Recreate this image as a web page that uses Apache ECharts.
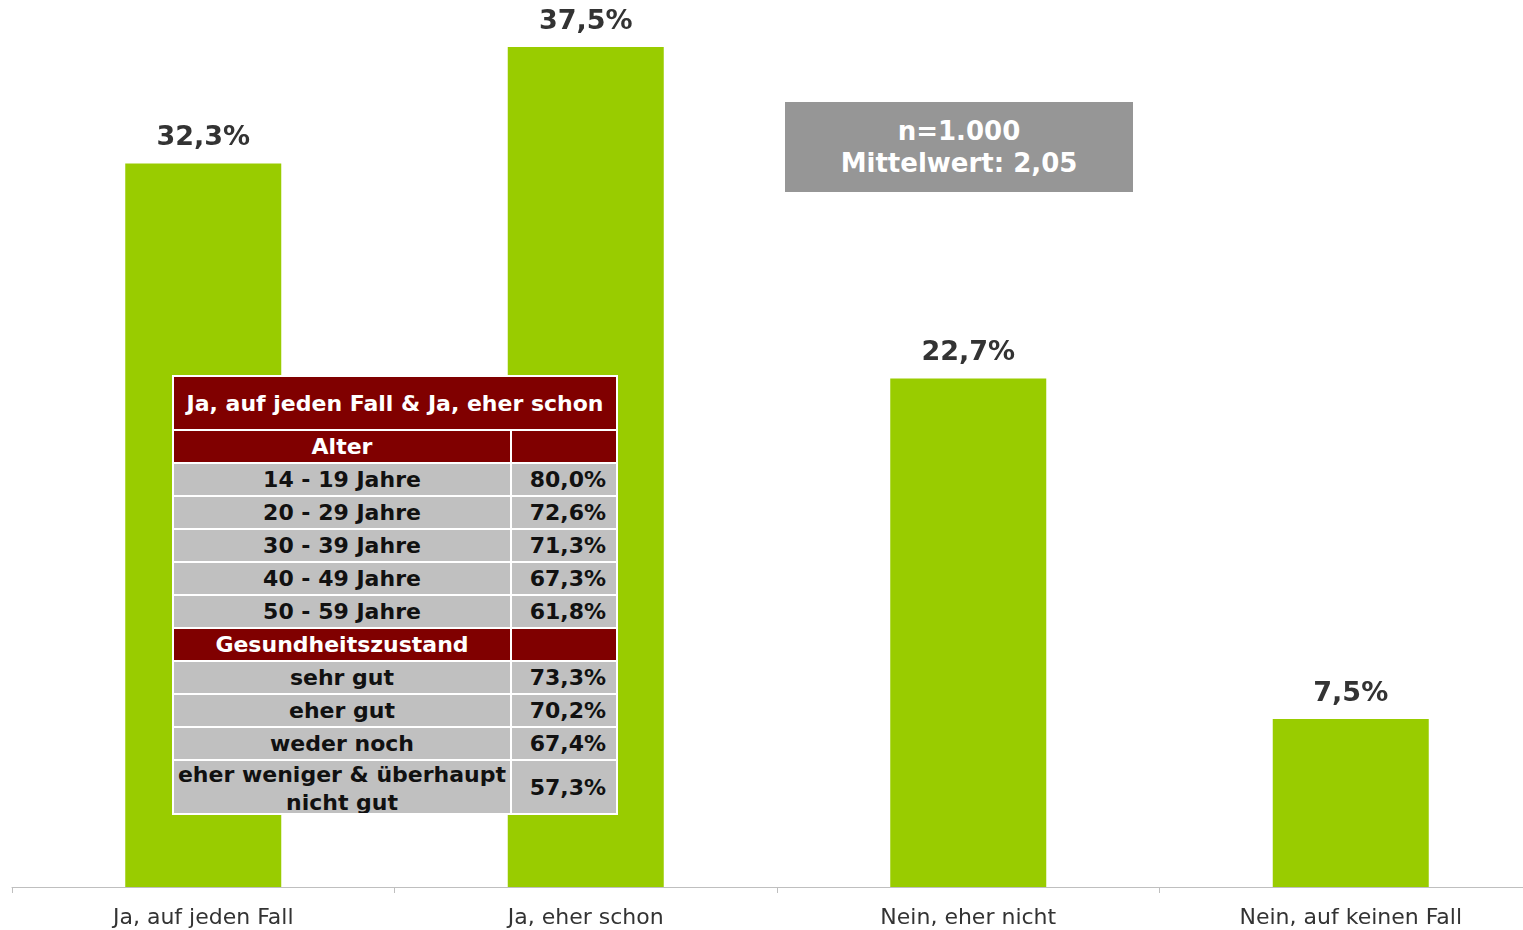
<!DOCTYPE html>
<html>
<head>
<meta charset="utf-8">
<script src="https://cdn.jsdelivr.net/npm/echarts@6/dist/echarts.min.js"></script>
<style>
  html, body { margin: 0; padding: 0; background: #fff; overflow: hidden; width: 1523px; height: 930px; }
  #chart { position: absolute; left: 0; top: 0; width: 1550px; height: 930px; }
  .nbox {
    position: absolute; left: 785px; top: 102px; width: 348px; height: 90px;
    background: #969696; color: #fff; font: bold 26px "DejaVu Sans", Verdana, sans-serif;
    text-align: center; display: flex; flex-direction: column; justify-content: center; line-height: 32px;
  }
  #tbl {
    position: absolute; left: 172px; top: 375px; width: 446px; table-layout: fixed;
    border-collapse: separate; border-spacing: 2px;
    background: #fff; font: bold 22px "DejaVu Sans", Verdana, sans-serif;
  }
  #tbl td { padding: 0; text-align: center; overflow: hidden; white-space: nowrap; }
  #tbl td.head { background: #800000; color: #fff; }
  #tbl td.cell { background: #c0c0c0; color: #111; }
  #tbl td.val { text-align: right; padding-right: 10px; }
</style>
</head>
<body>
<div id="chart"></div>
<div class="nbox"><div>n=1.000</div><div>Mittelwert: 2,05</div></div>
<table id="tbl"><colgroup><col style="width:336px"><col style="width:104px"></colgroup><tbody id="tb"></tbody></table>
<script>
/* ---------- Daten ---------- */
const categories = ["Ja, auf jeden Fall", "Ja, eher schon", "Nein, eher nicht", "Nein, auf keinen Fall"];
const values = [32.3, 37.5, 22.7, 7.5];

const tableTitle = "Ja, auf jeden Fall & Ja, eher schon";
const ageHead = "Alter";
const ageGroups = ["14 - 19 Jahre", "20 - 29 Jahre", "30 - 39 Jahre", "40 - 49 Jahre", "50 - 59 Jahre"];
const ageValues = ["80,0%", "72,6%", "71,3%", "67,3%", "61,8%"];
const healthHead = "Gesundheitszustand";
const healthGroups = ["sehr gut", "eher gut", "weder noch", "eher weniger & überhaupt nicht gut"];
const healthValues = ["73,3%", "70,2%", "67,4%", "57,3%"];

/* ---------- Tabelle ---------- */
function buildTable() {
  const t = document.getElementById("tb");
  let html = `<tr><td class="head" colspan="2" style="height:52px">${tableTitle}</td></tr>`;
  html += `<tr><td class="head" style="height:31px">${ageHead}</td><td class="head"></td></tr>`;
  ageGroups.forEach((g, i) => {
    html += `<tr><td class="cell" style="height:31px">${g}</td><td class="cell val">${ageValues[i]}</td></tr>`;
  });
  html += `<tr><td class="head" style="height:31px">${healthHead}</td><td class="head"></td></tr>`;
  healthGroups.forEach((g, i) => {
    const last = i === healthGroups.length - 1;
    const h = last ? 52 : 31;
    // letzte Zeile umbrechen wie im Original (unten abgeschnitten)
    const txt = last
      ? `<div style="height:52px;line-height:28px;overflow:hidden;margin-top:-1px">eher weniger &amp; überhaupt<br>nicht gut</div>`
      : g;
    html += `<tr><td class="cell" style="height:${h}px">${txt}</td><td class="cell val">${healthValues[i]}</td></tr>`;
  });
  t.innerHTML = html;
}
buildTable();

/* ---------- Diagramm ---------- */
const chart = echarts.init(document.getElementById("chart"));
chart.setOption({
  animation: false,
  grid: { left: 12, right: 8, top: 0, bottom: 43, containLabel: false },
  xAxis: {
    type: "category",
    data: categories,
    axisLine: { lineStyle: { color: "#bfbfbf", width: 1 } },
    axisTick: { show: true, length: 6, lineStyle: { color: "#bfbfbf" } },
    axisLabel: {
      margin: 20,
      fontSize: 22,
      color: "#333",
      fontFamily: "DejaVu Sans, Verdana, sans-serif",
    },
  },
  yAxis: { type: "value", min: 0, max: 39.6, show: false, splitLine: { show: false } },
  series: [
    {
      type: "bar",
      data: values,
      barWidth: 156,
      itemStyle: { color: "#99cc00" },
      label: {
        show: true,
        position: "top",
        distance: 12,
        fontSize: 27,
        fontWeight: "bold",
        color: "#333",
        fontFamily: "DejaVu Sans, Verdana, sans-serif",
        formatter: (p) => p.value.toFixed(1).replace(".", ",") + "%",
      },
    },
  ],
});
</script>
</body>
</html>
